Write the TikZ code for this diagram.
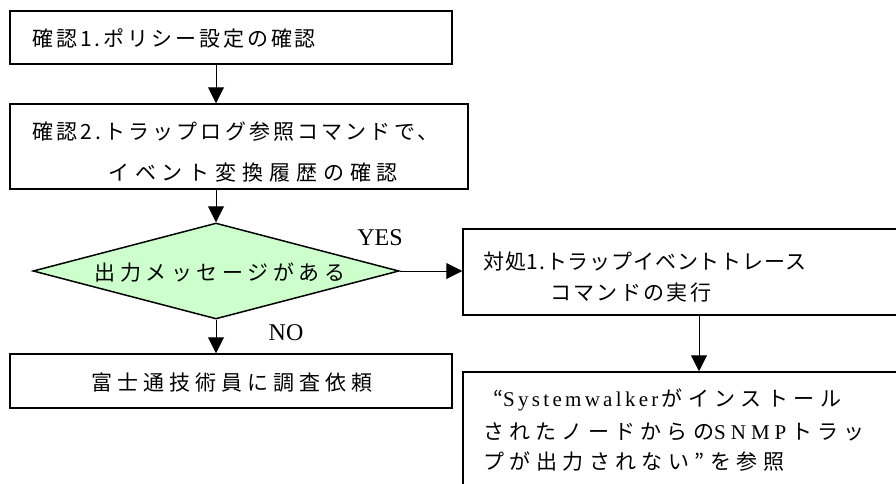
\documentclass[tikz,border=0pt]{standalone}
\usepackage{fontspec}
\setmainfont{Noto Sans CJK JP}
\newfontfamily\jp{Noto Sans CJK JP}
\newfontfamily\lat{Liberation Serif}
\makeatletter
\newcommand\latls[2]{{\lat\fontsize{21}{24}\selectfont\@tfor\lsc:=#2\do{\lsc\kern#1}}}
\makeatother
\usetikzlibrary{arrows.meta,shapes.geometric}
\definecolor{dgreen}{HTML}{CCFFCC}
\begin{document}
\begin{tikzpicture}[x=1pt,y=-1pt,
  box/.style={draw, line width=1.5pt, inner sep=0pt, rectangle},
  txt/.style={anchor=west, inner sep=0pt, font=\jp\fontsize{21}{24}\selectfont\addfontfeature{LetterSpace=#1}},
  ctxt/.style={inner sep=0pt, font=\jp\fontsize{21}{24}\selectfont\addfontfeature{LetterSpace=#1}},
  lbl/.style={inner sep=0pt, font=\lat\fontsize{24}{26}\selectfont},
  arr/.style={line width=1pt, -{Triangle[width=16pt,length=16pt]}}]
\useasboundingbox (0,0) rectangle (896,483);
\clip (0,0) rectangle (896,483);
% boxes
\node[box, minimum width=442pt, minimum height=53pt] (b1) at (231,37.5) {};
\node[box, minimum width=458pt, minimum height=85pt] (b2) at (239,146.5) {};
\node[draw, line width=1.5pt, fill=dgreen, shape=diamond, inner sep=0pt, minimum width=366pt, minimum height=96pt] (dia) at (216,271) {};
\node[box, minimum width=442pt, minimum height=54pt] (b4) at (231,381) {};
\node[box, minimum width=457pt, minimum height=86pt] (b3) at (691.5,272) {};
\node[box, minimum width=457pt, minimum height=138pt] (b5) at (691.5,441) {};
\coordinate (c4) at (699,0);
% texts
\node[txt=14] (t1) at (32,38) {確認1.ポリシー設定の確認};
\node[txt=15] (t2a) at (32,132) {確認2.トラップログ参照コマンドで、};
\node[txt=28] (t2b) at (108,173) {イベント変換履歴の確認};
\node[ctxt=22] (td) at (220,272) {出力メッセージがある};
\node[ctxt=24] (t4) at (232,383) {富士通技術員に調査依頼};
\node[txt=4] (t3a) at (483,262) {対処1.トラップイベントトレース};
\node[txt=11] (t3b) at (550,293) {コマンドの実行};
\node[txt=26] (t5a) at (493,400) {“\latls{3.3pt}{Systemwalker}がインストール};
\node[txt=25] (t5b) at (483,432) {されたノードからの\latls{5pt}{SNMP}トラッ};
\node[txt=26] (t5c) at (483,462) {プが出力されない”を参照};
\node[lbl] (yes) at (380,238) {YES};
\node[lbl] (no) at (286,333) {NO};
% arrows
\draw[arr] (b1.south -| dia.north) -- (b2.north -| dia.north);
\draw[arr] (b2.south -| dia.north) -- (dia.north);
\draw[arr] (dia.south) -- (b4.north -| dia.south);
\draw[arr] (dia.east) -- (dia.east -| b3.west);
\draw[arr] (b3.south -| c4) -- (b5.north -| c4);
\end{tikzpicture}
\end{document}
